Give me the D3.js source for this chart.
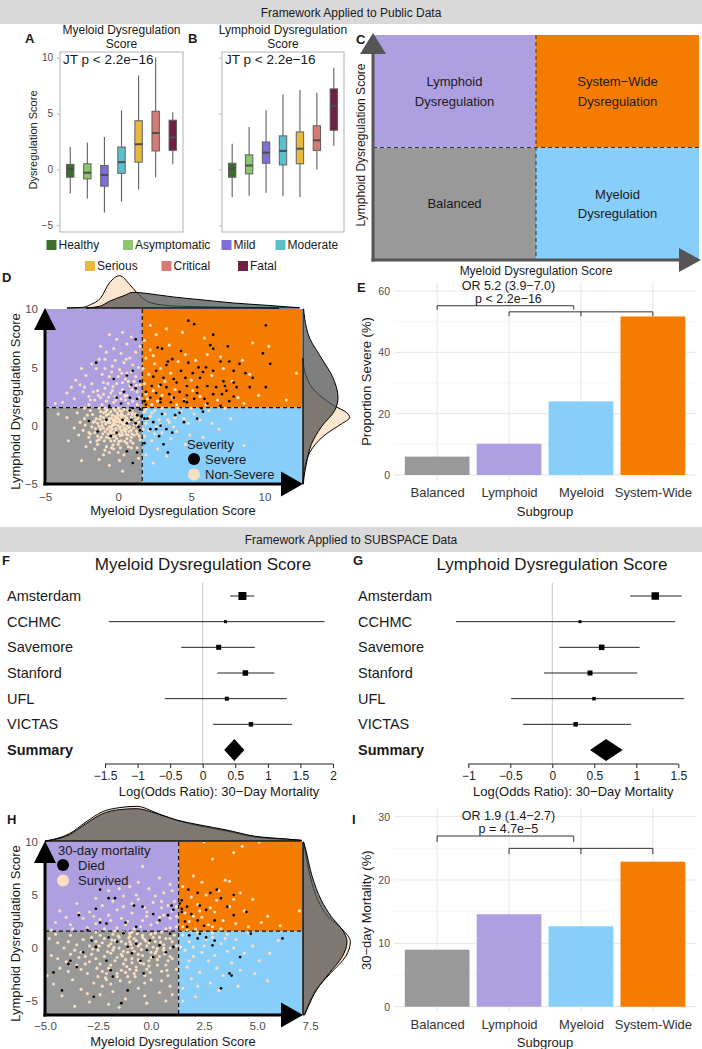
<!DOCTYPE html>
<html lang="en">
<head>
    <meta charset="UTF-8">
    <title>Dysregulation framework</title>
    <script src="https://cdnjs.cloudflare.com/ajax/libs/d3/7.8.5/d3.min.js"></script>
    <style>
        html, body {
            margin: 0;
            padding: 0;
            background: #fff;
            overflow: hidden;
        }
        svg text {
            font-family: "Liberation Sans", Arial, Helvetica, sans-serif;
        }
    </style>
</head>
<body>
<script>
    // ---------- data ----------
    let severityGroups = ['Healthy', 'Asymptomatic', 'Mild', 'Moderate', 'Serious', 'Critical', 'Fatal'];
    let severityColors = ['#3b6e2a', '#8dc66f', '#7e6ed6', '#5cc0cc', '#e8b93e', '#d67b73', '#6e1f43'];
    // [lower whisker, q1, median, q3, upper whisker]
    let myeloidBoxes = [
        [-2.15, -0.7, 0.05, 0.45, 2.0],
        [-2.6, -0.85, -0.3, 0.5, 2.4],
        [-3.85, -1.5, -0.5, 0.35, 2.9],
        [-2.9, -0.35, 0.65, 2.0, 5.3],
        [-1.8, 0.65, 2.25, 4.35, 8.4],
        [-0.7, 1.65, 3.25, 5.2, 10.0],
        [0.45, 1.7, 2.85, 4.4, 5.1]
    ];
    let lymphoidBoxes = [
        [-2.5, -0.7, 0.05, 0.55, 2.3],
        [-2.35, -0.4, 0.35, 1.3, 3.8],
        [-2.1, 0.55, 1.5, 2.45, 5.3],
        [-2.4, 0.4, 1.65, 3.0, 6.7],
        [-2.5, 0.5, 1.85, 3.35, 7.1],
        [0.0, 1.7, 2.6, 3.9, 6.85],
        [2.1, 3.5, 5.7, 7.2, 9.1]
    ];
    let boxTicks = [-5, 0, 5, 10];

    let quadrantNames = ['Balanced', 'Lymphoid', 'Myeloid', 'System-Wide'];
    let quadrantColors = ['#999999', '#ae9fe0', '#87cefa', '#f57c00'];
    let quadrantLabels = [['Balanced'], ['Lymphoid', 'Dysregulation'], ['Myeloid', 'Dysregulation'], ['System\u2212Wide', 'Dysregulation']];

    let proportionSevere = [6.0, 10.2, 24.0, 51.7];
    let mortality30 = [9.0, 14.6, 12.7, 22.9];

    let sites = ['Amsterdam', 'CCHMC', 'Savemore', 'Stanford', 'UFL', 'VICTAS'];
    let myeloidLogOR = [0.61, 0.35, 0.245, 0.655, 0.37, 0.74];
    let myeloidLow = [0.42, -1.44, -0.33, 0.225, -0.58, 0.16];
    let myeloidHigh = [0.79, 1.87, 0.80, 1.10, 1.29, 1.37];
    let myeloidWeight = [37, 5.2, 14.5, 17.5, 9.3, 11.7];
    let myeloidSummary = [0.33, 0.485, 0.64];
    let lymphoidLogOR = [1.226, 0.33, 0.588, 0.449, 0.496, 0.278];
    let lymphoidLow = [0.925, -1.147, 0.083, -0.099, -0.49, -0.349];
    let lymphoidHigh = [1.54, 1.46, 1.04, 1.012, 1.57, 0.937];
    let lymphoidWeight = [32.5, 5.2, 17.5, 14.5, 7.1, 11.7];
    let lymphoidSummary = [0.449, 0.64, 0.838];
    let myeloidForestTicks = [-1.5, -1, -0.5, 0, 0.5, 1, 1.5, 2];
    let lymphoidForestTicks = [-1, -0.5, 0, 0.5, 1, 1.5];

    // panel D points [myeloid, lymphoid]
    let dSevere = [
        [4.8,9.0],[5.2,8.7],[10.1,8.6],[6.5,7.8],[2.7,6.7],[3.0,6.6],[4.3,6.4],[3.7,5.7],[6.3,6.9],[6.5,6.6],[7.5,6.8],[9.9,6.2],
        [10.4,5.3],[7.0,5.5],[7.6,5.5],[8.3,5.3],[3.3,5.2],[3.4,5.5],[4.8,5.4],[5.5,5.0],[6.0,5.0],[5.8,4.6],[6.5,4.7],[7.9,4.7],
        [8.7,4.5],[4.3,4.7],[5.1,4.5],[2.6,4.7],[2.4,4.2],[3.1,4.1],[3.8,4.0],[4.6,4.1],[5.6,4.1],[7.2,3.8],[7.9,3.7],[9.2,4.1],
        [2.3,3.4],[2.9,3.5],[3.3,3.3],[4.0,3.7],[4.7,3.4],[5.4,3.3],[6.1,3.4],[6.7,3.3],[7.3,3.4],[7.4,3.0],[8.1,3.3],[9.0,3.3],
        [10.1,3.3],[1.9,2.9],[2.6,2.8],[3.5,2.7],[4.2,2.9],[4.7,2.6],[5.4,2.8],[6.5,2.7],[7.1,2.7],[7.9,2.5],[2.2,2.4],[2.9,2.3],
        [3.8,2.4],[4.5,2.1],[5.2,2.3],[5.9,2.3],[2.9,2.0],[3.6,2.0],[4.7,2.0],[6.1,1.9],[7.0,1.7],[7.6,2.1],[1.8,2.1],[1.9,1.8],
        [-1.5,5.4],[1.2,7.4],[-0.3,4.0],[0.6,4.3],[1.0,4.7],[0.9,3.5],[1.2,3.2],[1.5,3.8],[0.4,2.9],[-0.1,2.4],[0.8,2.4],[1.3,2.3],
        [0.2,1.9],[-0.6,1.7],[1.5,1.4],[1.0,1.5],[0.8,1.3],[1.3,0.9],[1.6,0.8],[1.8,0.6],[0.9,0.5],[1.2,0.2],[1.4,-0.1],[0.3,0.5],
        [0.6,0.2],[-0.8,0.5],[-1.4,-0.5],[-2.0,0.4],[0.6,-2.2],[1.3,-2.3],[1.0,-3.2],[-0.5,-0.9],[-0.1,-0.6],[1.5,-0.4],[2.0,0.6],
        [2.4,0.3],[2.9,0.0],[3.3,-0.3],[3.7,-0.6],[2.8,-0.9],[3.1,-1.6],[3.4,-2.3],[1.8,-1.5],[2.6,-0.3],[5.4,0.6],[5.8,1.2],
        [4.5,0.3],[4.2,1.1],[5.7,1.5],[3.0,1.0],[3.9,0.9],[2.2,-0.3]
    ];
    let dNonSevere = [
        [-0.3,0.2],[0.1,0.5],[-0.6,-0.1],[0.4,-0.2],[-0.1,-0.5],[0.7,0.3],[-0.9,0.4],[0.2,1.0],[-0.4,0.9],[0.9,-0.4],[-1.2,-0.3],
        [0.5,0.8],[-0.7,-0.7],[0.0,0.0],[0.3,-0.8],[-0.2,1.3],[1.1,0.1],[-1.5,0.6],[0.6,-1.1],[-0.5,-1.3],[0.8,1.2],[-1.0,1.1],
        [1.3,-0.7],[-1.8,-0.1],[0.0,-1.6],[-0.8,-1.8],[1.0,-1.5],[-2.1,0.9],[-1.3,-1.2],[0.4,1.4],[-0.1,0.7],[0.2,-0.4],[-0.4,-0.3],
        [0.6,0.0],[-0.7,0.3],[0.1,0.3],[-0.2,-0.9],[0.9,0.7],[-1.1,0.0],[0.3,0.2],[-0.6,0.6],[1.2,0.5],[-0.3,-0.6],[0.5,-0.5],
        [-1.4,0.2],[-0.9,-0.5],[0.7,-0.8],[-0.2,0.4],[0.2,0.8],[-0.5,1.2],[1.4,0.3],[-1.6,-0.6],[-2.4,-0.4],[-2.0,-1.0],[-2.6,0.3],
        [-3.0,-0.2],[-1.9,1.3],[-2.8,1.1],[-3.5,0.7],[-4.1,1.0],[-0.3,-2.0],[0.4,-2.5],[-1.0,-2.5],[0.1,-3.0],[-0.6,-3.4],[0.3,-3.9],
        [-1.6,-2.0],[1.3,-1.9],[-2.2,-1.8],[-1.3,-2.9],[-2.5,-3.0],[1.4,-2.8],[-0.9,1.5],[0.0,1.5],[1.0,1.4],[-1.3,1.5],[-2.3,1.5],
        [0.8,-0.1],[-0.1,-1.1],[0.2,-1.3],[-0.8,-1.0],[-1.7,0.3],[0.6,0.5],[-0.4,0.0],[0.0,0.9],[0.9,-1.0],[-1.2,0.8],[1.5,-1.2],
        [-0.6,-2.3],[0.7,-1.8],[-1.9,-1.4],[1.2,1.0],[-0.2,0.1],[0.3,0.6],[-0.8,0.9],[-0.5,-0.6],[0.1,-0.2],[-1.0,-0.2],[0.5,0.2],
        [-3.4,-1.3],[-1.4,-0.9],
        [-0.35,0.45],[0.15,-0.1],[-0.55,-0.45],[0.45,0.45],[-0.15,-0.25],[0.75,-0.15],[-0.85,0.15],[0.25,1.2],[-0.45,0.65],
        [1.05,-0.2],[-1.05,-0.7],[0.35,0.05],[-0.25,-1.3],[0.55,-0.75],[-0.65,1.0],[0.95,0.95],[-1.25,0.55],[0.05,-0.7],
        [-0.05,1.1],[1.25,-0.45],[-1.55,-0.25],[0.65,1.35],[-0.95,-1.3],[0.15,-1.9],[-0.35,-1.65],[1.35,0.65],[-1.75,0.95],
        [-2.25,0.05],[0.85,-1.3],[-0.75,1.35],[0.4,-0.35],[-0.2,0.8],[-1.1,0.3],[0.6,0.65],[-0.5,-0.15],[0.2,0.35],[1.1,-0.8],
        [-1.4,-1.6],[-2.0,-0.6],[0.0,-2.3],
        [-0.1,0.35],[0.3,0.9],[-0.75,-0.3],[0.55,-0.3],[-0.35,-0.95],[0.85,0.45],[-1.0,0.7],[0.1,1.3],[-0.55,0.25],[1.15,0.8],
        [-1.3,-0.05],[0.7,1.0],[-0.6,-1.05],[0.0,0.6],[0.45,-1.35],[-0.3,1.45],[1.3,0.05],[-1.6,0.35],[0.75,-0.5],[-0.15,-0.35],
        [0.95,-0.7],[-1.15,-1.0],[0.25,-0.6],[-0.85,1.2],[1.45,-0.9],[-1.9,-0.7],[0.05,-1.35],[-0.45,-1.9],[0.6,-1.5],[-1.2,1.2],
        [1.0,1.1],[-0.25,0.55],[0.4,0.15],[-0.65,0.45],[0.15,-0.85],[-1.45,-1.3],[-2.3,0.6],[-2.7,-0.8],[0.9,-1.9],[-0.9,-2.1],
        [-0.3,2.0],[0.2,2.3],[-0.8,2.1],[0.6,2.6],[-1.2,2.4],[1.0,2.1],[-0.5,2.8],[0.3,3.1],[-1.6,2.2],[1.3,2.9],[-2.0,2.5],
        [0.8,3.4],[-0.9,3.2],[-0.1,3.6],[1.1,3.8],[-1.4,3.0],[0.5,4.0],[-2.4,2.9],[-0.6,4.2],[0.9,4.6],[-1.8,3.6],[0.1,4.8],
        [-1.1,4.4],[1.4,5.0],[-2.6,3.5],[0.4,5.4],[-0.4,5.1],[-1.5,4.9],[0.8,5.8],[-2.2,4.3],[-0.9,5.7],[0.2,6.2],[1.2,6.3],
        [-0.3,6.6],[-1.8,5.3],[0.6,7.0],[-0.8,6.3],[-0.1,7.4],[0.3,8.0],[-0.6,7.8],[0.9,7.6],[-3.0,2.3],[-3.5,2.8],[-2.9,3.9],
        [-3.8,2.0],[-4.3,1.9],[-2.0,1.8],[-1.1,1.8],[0.7,1.9],[1.4,2.4],[1.5,3.5],[1.2,4.2],[-1.3,5.7],[-2.5,4.9],[-0.2,2.5],
        [0.5,2.2],[-0.7,3.6],[0.0,4.2],[-1.7,2.9],[1.0,5.2],[-0.4,3.0],[-1.0,2.7],[0.3,3.7],[-2.3,3.3],[0.6,4.5],[1.5,6.8],
        [-1.2,6.8],[-0.2,5.6],[1.3,1.8],[-3.2,3.3],
        [-0.15,2.2],[0.45,2.55],[-0.65,2.45],[0.95,3.1],[-1.35,2.6],[0.15,2.8],[-0.35,3.35],[0.7,3.8],[-1.0,3.7],[0.25,4.5],
        [-0.45,4.6],[1.25,3.45],[-1.9,2.2],[0.55,5.7],[-0.9,4.9],
        [2.0,2.3],[2.4,3.0],[1.8,3.6],[2.1,4.4],[2.7,2.1],[3.2,3.8],[2.5,5.3],[1.9,5.8],[2.2,6.5],[1.8,7.3],[2.6,7.8],[3.5,6.9],
        [4.1,5.5],[3.9,3.1],[4.5,2.2],[5.0,3.9],[5.3,5.6],[5.9,7.5],[6.4,4.3],[7.2,4.9],[6.8,2.2],[7.8,3.8],[8.2,2.4],[9.0,4.4],
        [12.2,4.5],[9.6,2.6],[11.5,2.2],[2.3,1.8],[3.0,2.6],[1.9,2.7],[3.6,4.5],[4.6,6.1],[2.9,4.9],[5.6,2.5],[6.1,6.1],[7.0,5.9],
        [8.5,5.6],[3.3,8.3],[2.2,8.6],[4.4,8.0],[10.3,6.8],[9.2,7.1],[5.1,3.0],[3.7,2.4],[2.8,3.4],[4.0,1.8],[6.0,1.8],[8.6,1.9],
        [1.7,4.9],[2.4,6.0],
        [1.8,1.2],[2.2,0.8],[1.9,0.2],[2.5,1.3],[2.8,0.5],[2.1,-0.4],[3.2,1.0],[2.6,-0.1],[3.5,0.3],[1.8,-0.9],[3.0,-0.6],
        [3.9,0.7],[2.3,-1.3],[4.3,1.2],[3.6,-1.1],[4.8,0.2],[2.7,-2.0],[5.2,1.0],[4.0,-0.5],[5.6,0.5],[1.9,-2.5],[3.3,-2.6],
        [6.2,1.3],[4.6,-1.6],[6.9,-0.3],[5.8,-1.0],[7.7,0.6],[8.6,-1.7],[5.3,-2.8],[2.4,-3.2],[3.0,1.5],[4.1,1.5],[2.0,0.5],
        [2.9,0.1],[2.3,1.1],[3.8,-0.1],[4.5,0.6],[1.7,-0.3],[2.5,-0.7],[3.4,0.5],[1.9,1.4],[6.4,0.2],[4.9,-0.8],[7.3,1.5],[5.0,1.5]
    ];
    // panel D marginal densities (relative heights)
    let dTopNonSevereX = [-3.5, -2.4, -1.9, -1.2, -0.6, 0.1, 0.8, 1.3, 2.0, 2.9, 4.5, 7.9, 11.0];
    let dTopNonSevereH = [0, 2, 10, 30, 75, 97, 70, 45, 20, 10, 5, 2, 0];
    let dTopSevereX = [-2.2, -1.2, -0.6, 0.4, 1.0, 1.7, 2.6, 3.8, 5.6, 7.9, 10.2, 11.7, 12.4];
    let dTopSevereH = [0, 6, 20, 37, 47, 45, 40, 33, 25, 15, 8, 3, 1];
    let dRightSevereY = [10, 9.2, 7.5, 5.8, 4.1, 2.4, 1.3, -0.1, -1.6, -3.3, -4.4, -5];
    let dRightSevereH = [2, 5, 20, 55, 90, 105, 95, 55, 25, 10, 3, 1];
    let dRightNonSevereY = [5.8, 4.7, 3.0, 1.85, 1.0, 0.7, 0.15, -0.7, -1.85, -3.3, -4.5, -5];
    let dRightNonSevereH = [0, 5, 35, 85, 135, 140, 115, 70, 30, 7, 1, 0];

    // panel H points [myeloid, lymphoid]
    let hDied = [
        [1.76,5.5],[2.2,5.2],[2.8,5.2],[3.3,4.7],[3.1,5.5],[1.45,4.5],[1.7,3.9],[1.9,3.2],[2.3,4.0],[2.6,3.6],[3.6,3.9],[3.9,3.1],
        [4.5,3.4],[1.45,3.4],[1.6,2.5],[2.2,2.6],[3.0,2.6],[1.7,2.0],[2.5,2.1],[3.9,5.0],[1.45,3.7],[1.35,4.2],
        [1.8,1.2],[2.3,1.35],[2.6,1.0],[2.9,0.25],[3.0,0.7],[4.2,-0.85],[6.2,0.9],[4.7,1.35],[3.7,-2.4],[3.8,-2.6],[3.3,-3.8],[2.2,0.9],
        [-3.4,3.1],[-2.4,5.5],[-2.0,4.7],[-1.7,4.7],[-2.6,3.7],[-2.4,2.4],[-2.1,2.3],[-0.8,4.0],[-0.4,3.9],[0.1,3.2],[0.97,4.0],
        [1.05,3.6],[0.8,3.1],[0.4,2.6],[-1.2,2.4],[-0.7,2.0],[-3.0,1.7],
        [-4.6,-2.3],[-4.2,-4.0],[-3.9,-1.5],[-3.8,-1.2],[-3.5,-1.8],[-3.2,-0.4],[-2.8,0.7],[-2.6,0.1],[-2.1,-1.2],[-1.9,-2.1],
        [-1.8,-2.7],[-1.6,0.6],[-1.3,1.4],[-1.1,0.1],[-0.9,-0.5],[-0.7,0.4],[-0.5,-1.2],[-0.2,-0.2],[-0.05,0.7],[0.1,-0.85],
        [0.4,0.25],[0.7,-0.4],[0.9,1.35],[1.05,0.1],[-0.35,-2.4],[-1.1,-4.0],[-2.7,-4.6],[-1.4,-5.2],[-2.0,1.0]
    ];
    let hSurvived = [
        [-0.8,-0.3],[-1.2,0.4],[-0.3,0.8],[0.2,-0.5],[-1.6,-0.9],[-0.5,-1.4],[0.6,0.3],[-2.0,0.2],[-1.0,1.1],[0.0,1.3],[0.9,-0.8],
        [-2.4,-1.5],[-1.4,-2.1],[-0.2,-2.0],[0.7,-1.6],[-2.8,-0.6],[-3.2,0.8],[-1.8,1.3],[0.4,1.0],[1.0,0.6],[-0.6,0.2],[-1.5,0.0],
        [-0.9,-1.0],[0.1,0.1],[-2.2,0.9],[-3.6,-0.2],[-4.0,-1.3],[-3.0,-2.4],[-2.1,-3.0],[-1.0,-3.2],[0.0,-3.0],[0.8,-2.6],[-4.4,0.5],
        [-3.8,1.2],[-2.6,1.5],[-1.3,1.5],[0.5,1.5],[1.1,1.2],[-0.4,-0.7],[-1.9,-0.5],[-2.5,-0.2],[-1.1,-0.4],[0.3,-1.1],[-0.7,0.7],
        [-1.7,0.7],[-2.9,0.2],[-3.4,-0.9],[-0.1,0.5],[0.9,0.0],[-1.3,-1.5],[-2.0,-1.9],[-0.3,-2.6],[-1.6,-2.7],[-2.7,-3.3],[-3.9,-2.2],
        [-4.3,-1.9],[-4.7,-0.7],[-3.1,-1.5],[-0.6,-3.8],[-1.8,-4.1],[-2.4,-4.4],[-3.3,-3.9],[-1.2,-4.8],[0.4,-4.2],[-0.2,-5.2],
        [-2.9,-5.1],[-1.5,-5.6],[0.9,-3.6],[1.2,-2.0],[1.0,-1.0],[0.6,-0.2],[-0.9,0.0],[-0.5,0.4],[-1.4,-0.6],[-2.3,0.5],[-0.2,-0.2],
        [0.2,0.6],[-1.0,0.6],[-1.8,-0.2],[-0.7,-1.8],[0.3,-1.6],[-2.6,-1.0],[-1.2,-1.1],[-3.5,0.3],[-4.1,0.0],[-2.1,-2.4],[-0.8,-2.4],
        [0.5,-2.2],[-0.4,1.2],[-1.5,1.0],[-2.8,1.0],[0.7,0.9],[-0.1,-1.2],[-3.7,-3.0],[-4.6,-3.4],[-3.0,-4.3],[-4.2,-4.5],[-2.3,-3.6],
        [-1.0,-2.0],[0.0,-0.9],[-1.9,0.4],[-0.6,-1.1],[1.2,0.2],[-2.4,1.2],[-4.9,-2.6],[-4.5,1.3],[-3.3,-0.4],[-0.9,1.5],[0.1,1.0],
        [-1.1,-2.7],[-2.5,-2.7],[-0.3,-4.5],[0.7,-5.0],[-3.6,-5.5],[1.0,-4.4],[-4.8,0.9],[-2.0,-5.3],[-1.7,1.6],
        [-0.6,-0.6],[-1.1,0.0],[-0.2,0.2],[0.4,-0.8],[-1.4,0.6],[-0.9,-1.4],[0.0,-0.4],[-1.7,-1.2],[-0.4,1.0],[0.6,0.0],
        [-2.2,-0.8],[-1.3,-0.3],[0.2,1.4],[-0.7,-2.1],[-2.0,1.0],[-2.9,-1.3],[0.8,-1.2],[-1.6,-2.4],[-0.1,-1.7],[-2.6,0.6],
        [-3.3,-2.0],[-1.0,1.4],[0.9,0.9],[-0.3,-3.3],[-1.9,-3.4],[-3.8,-0.6],[-2.3,-2.2],[-0.8,0.9],[-1.2,-2.3],[0.5,-3.1],
        [-1.35,-0.75],[-0.45,-0.15],[-2.05,-0.35],[-0.95,0.35],[-1.75,0.05],[0.25,-0.3],[-0.55,-1.15],[-2.45,0.2],[-1.15,-1.75],
        [-0.25,0.65],[-1.9,-1.6],[0.45,0.55],[-2.75,-0.1],[-0.75,-2.7],[-1.55,1.15],[-3.1,-0.8],[0.65,-0.55],[-0.05,-2.3],
        [-2.15,-2.8],[-1.05,0.95],[-3.5,-1.6],[-0.35,-1.5],[-1.45,-3.1],[0.75,-2.1],[-2.55,-1.9],[-0.65,1.35],[-1.85,0.75],
        [-4.4,-1.0],[-3.9,0.6],[0.3,-0.05],
        [-0.5,2.0],[0.3,2.4],[-1.2,2.2],[0.9,2.8],[-1.9,2.6],[-0.2,3.0],[1.0,3.5],[-2.6,2.3],[-0.9,3.3],[0.5,3.8],[-1.6,3.6],
        [-3.2,2.8],[0.1,4.3],[-0.6,4.6],[1.1,4.4],[-2.3,4.0],[-1.3,4.9],[0.6,5.2],[-3.8,2.2],[-4.5,2.4],[-2.9,3.4],[-0.1,5.6],
        [0.9,6.0],[-2.0,5.4],[-4.3,3.5],[-3.5,4.2],[-1.0,5.8],[0.4,6.6],[-0.4,7.7],[1.2,2.0],[0.7,1.8],[-0.8,1.8],[-2.2,1.8],
        [-3.0,1.9],[-1.6,1.9],[0.0,2.2],[0.6,3.1],[-0.4,2.6],[-1.4,2.8],[-2.7,3.0],[1.2,3.0],[0.8,4.0],[-0.3,3.8],[-1.8,4.4],
        [-3.4,3.3],[0.2,4.9],[-0.9,4.2],[1.0,5.4],[-2.6,4.7],[-1.5,5.6],[-0.6,6.2],[-4.0,2.9],[-2.0,3.1],[-1.1,2.5],[0.4,2.9],
        [-0.2,3.4],[1.2,3.9],[-3.7,1.8],[-4.7,1.7],[0.9,1.9],[-0.7,5.0],[0.5,4.4],[-1.3,3.9],[-2.4,2.7],
        [1.5,2.0],[1.8,2.5],[2.1,1.8],[2.4,2.9],[1.6,3.3],[2.7,2.2],[3.0,3.4],[2.2,4.1],[3.4,2.6],[1.9,4.8],[3.7,3.9],[2.6,5.0],
        [4.0,2.3],[3.2,5.4],[4.4,3.5],[2.4,6.2],[3.5,6.4],[3.7,6.3],[4.8,4.6],[5.2,2.4],[2.0,6.8],[2.9,8.4],[3.9,9.0],[4.3,9.6],
        [5.1,10.0],[2.5,10.0],[6.1,2.1],[7.0,3.5],[1.7,1.7],[2.9,2.0],[3.3,1.8],[4.6,2.0],[2.0,3.0],[2.8,3.8],[3.9,4.6],[4.2,5.2],
        [5.5,3.0],[1.5,5.8],[3.1,4.5],[2.3,3.5],
        [1.5,1.2],[1.8,0.6],[2.2,1.4],[1.6,-0.2],[2.5,0.2],[2.0,-0.8],[2.9,1.0],[3.3,0.4],[2.7,-1.2],[3.6,-0.3],[1.7,-1.8],
        [2.3,-2.3],[3.1,-1.9],[4.0,0.8],[3.8,-1.4],[4.4,-0.5],[1.9,-2.9],[2.8,-3.3],[3.4,-2.6],[4.2,-2.1],[4.8,0.2],[5.1,-1.2],
        [5.5,-3.1],[2.1,-4.6],[1.5,-5.0],[3.6,1.3],[4.6,1.4],[1.4,0.1],[2.4,-0.4],[3.0,-0.7],[1.8,-1.2],[2.6,0.8],[3.9,0.0],
        [4.9,-2.4],[6.0,0.7],[2.2,-3.6],[3.2,-4.0],[1.5,-3.8],[4.1,-3.6],[2.9,1.4],[2.0,0.1],[3.5,0.9],[5.6,-0.5]
    ];
    let hTopX = [-5.0, -4.6, -3.85, -3.07, -2.28, -1.5, -0.67, 0.27, 1.21, 2.31, 3.57, 4.83, 6.4, 7.1];
    let hTopSurvivedH = [0, 5, 22, 57, 88, 100, 104, 84, 62, 45, 30, 13, 5, 2];
    let hTopDiedH = [0, 4, 19, 52, 82, 94, 97, 82, 63, 48, 33, 15, 6, 2];
    let hRightY = [10, 9.56, 6.7, 4.5, 2.96, 1.7, 0.6, -0.8, -2.4, -3.9, -5.5, -6.3];
    let hRightSurvivedH = [1, 4, 22, 45, 75, 120, 142, 128, 82, 40, 14, 4];
    let hRightDiedH = [2, 6, 28, 55, 85, 118, 132, 118, 78, 42, 16, 5];

    // ---------- drawing ----------
    let width = 702;
    let height = 1049;
    let beige = '#fbe0c0';
    let svg = d3.select('body').append('svg')
        .attr('width', width)
        .attr('height', height);

    function addText(x, y, str, size, o = {}) {
        return svg.append('text')
            .attr('x', x).attr('y', y).attr('dy', '0.35em')
            .attr('font-size', size)
            .attr('fill', o.fill || '#1a1a1a')
            .attr('text-anchor', o.anchor || 'middle')
            .attr('font-weight', o.weight || 'normal')
            .attr('transform', o.rotate ? `rotate(-90,${x},${y})` : null)
            .text(str);
    }

    function styleAxis(a, size, fill) {
        a.select('.domain').remove();
        a.selectAll('text').attr('font-size', size).attr('fill', fill)
            .attr('font-family', '"Liberation Sans", Arial, sans-serif');
    }

    // banners
    svg.append('rect').attr('x', 0).attr('y', 0).attr('width', width).attr('height', 24).attr('fill', '#d9d9d9');
    addText(351, 12.5, 'Framework Applied to Public Data', 12);
    svg.append('rect').attr('x', 0).attr('y', 527).attr('width', width).attr('height', 25).attr('fill', '#d9d9d9');
    addText(351, 539.5, 'Framework Applied to SUBSPACE Data', 12);

    // panel letters
    [['A', 25, 38], ['B', 188, 38], ['C', 356, 39], ['D', 2, 277], ['E', 357, 287],
        ['F', 2, 560], ['G', 353, 560], ['H', 7, 819], ['I', 352, 819]].forEach(l => {
        addText(l[1], l[2], l[0], 13, {anchor: 'start', weight: 'bold'});
    });

    // ---------- A / B box plots ----------
    function boxPanel(x0, x1, boxes, title, showY) {
        let x = d3.scalePoint().domain(severityGroups).range([x0, x1]).padding(0.6);
        let y = d3.scaleLinear().domain([-5.6, 10.5]).range([232, 52]);
        let g = svg.append('g');
        g.append('rect').attr('x', x0).attr('y', 52).attr('width', x1 - x0).attr('height', 180)
            .attr('fill', 'none').attr('stroke', '#b3b3b3');
        g.append('g').attr('transform', `translate(${x0},0)`)
            .call(d3.axisLeft(y).tickValues(boxTicks).tickSize(3).tickPadding(4)
                .tickFormat(showY ? d3.format('d') : () => ''))
            .call(a => {
                styleAxis(a, 10, '#4d4d4d');
                a.selectAll('line').attr('stroke', '#b3b3b3');
            });
        let bw = 7.4;
        let b = g.selectAll('g.box').data(boxes).join('g');
        b.append('line')
            .attr('x1', (d, i) => x(severityGroups[i])).attr('x2', (d, i) => x(severityGroups[i]))
            .attr('y1', d => y(d[0])).attr('y2', d => y(d[4]))
            .attr('stroke', '#5f5f5f').attr('stroke-width', 1.1);
        b.append('rect')
            .attr('x', (d, i) => x(severityGroups[i]) - bw / 2).attr('width', bw)
            .attr('y', d => y(d[3])).attr('height', d => y(d[1]) - y(d[3]))
            .attr('fill', (d, i) => severityColors[i])
            .attr('stroke', '#5f5f5f').attr('stroke-width', 1);
        b.append('line')
            .attr('x1', (d, i) => x(severityGroups[i]) - bw / 2).attr('x2', (d, i) => x(severityGroups[i]) + bw / 2)
            .attr('y1', d => y(d[2])).attr('y2', d => y(d[2]))
            .attr('stroke', '#4d4d4d').attr('stroke-width', 2);
        let cx = (x0 + x1) / 2;
        addText(cx, 30, title, 12);
        addText(cx, 44, 'Score', 12);
        addText(x0 + 3, 59.5, 'JT p < 2.2e\u221216', 13.5, {anchor: 'start'});
    }

    boxPanel(60, 183, myeloidBoxes, 'Myeloid Dysregulation', true);
    boxPanel(222, 344, lymphoidBoxes, 'Lymphoid Dysregulation', false);
    addText(33, 140, 'Dysregulation Score', 11, {rotate: true});

    // legend
    let legendPos = [[46.5, 245], [123, 245], [221.5, 245], [275.5, 245], [85, 266], [161.5, 266], [238, 266]];
    severityGroups.forEach((s, i) => {
        svg.append('rect').attr('x', legendPos[i][0]).attr('y', legendPos[i][1] - 5)
            .attr('width', 10).attr('height', 10).attr('fill', severityColors[i]);
        addText(legendPos[i][0] + 12, legendPos[i][1], s, 12, {anchor: 'start'});
    });

    // ---------- C schematic ----------
    {
        let cx = d3.scaleLinear().domain([0, 2]).range([373, 699]);
        let cy = d3.scaleLinear().domain([0, 2]).range([260, 35]);
        let col = [0, 0, 1, 1], row = [0, 1, 0, 1];
        quadrantNames.forEach((q, i) => {
            svg.append('rect').attr('x', cx(col[i])).attr('y', cy(row[i] + 1))
                .attr('width', cx(col[i] + 1) - cx(col[i])).attr('height', cy(row[i]) - cy(row[i] + 1))
                .attr('fill', quadrantColors[i]);
            let lines = quadrantLabels[i];
            let mx = cx(col[i] + 0.5), my = cy(row[i] + 0.5);
            lines.forEach((t, j) => addText(mx, my + (j - (lines.length - 1) / 2) * 19.5, t, 13));
        });
        svg.append('line').attr('x1', cx(1)).attr('x2', cx(1)).attr('y1', cy(2)).attr('y2', cy(0))
            .attr('stroke', '#333').attr('stroke-dasharray', '4,3');
        svg.append('line').attr('x1', cx(0)).attr('x2', cx(2)).attr('y1', cy(1)).attr('y2', cy(1))
            .attr('stroke', '#333').attr('stroke-dasharray', '4,3');
        let ac = '#555555';
        svg.append('line').attr('x1', 373).attr('x2', 373).attr('y1', 261.5).attr('y2', 50).attr('stroke', ac).attr('stroke-width', 3);
        svg.append('line').attr('x1', 371.5).attr('x2', 682).attr('y1', 260).attr('y2', 260).attr('stroke', ac).attr('stroke-width', 3);
        svg.append('path').attr('d', 'M373,33 L386,54 L360,54 Z').attr('fill', ac);
        svg.append('path').attr('d', 'M701,260 L679,248 L679,272 Z').attr('fill', ac);
        addText(361, 145, 'Lymphoid Dysregulation Score', 12, {rotate: true});
        addText(536, 271, 'Myeloid Dysregulation Score', 12);
    }

    // ---------- D / H scatter ----------
    function scatterPanel(p) {
        let x = d3.scaleLinear().domain(p.xDomain).range([45, 302]);
        let y = d3.scaleLinear().domain(p.yDomain).range([p.bottom, p.top]);
        let g = svg.append('g');
        let xl = 45, xr = 302, xc = x(p.cut[0]), yc = y(p.cut[1]);
        let rects = [[xl, yc, xc, p.bottom], [xl, p.top, xc, yc], [xc, yc, xr, p.bottom], [xc, p.top, xr, yc]];
        g.selectAll('rect.q').data(quadrantNames).join('rect')
            .attr('x', (d, i) => rects[i][0]).attr('y', (d, i) => rects[i][1])
            .attr('width', (d, i) => rects[i][2] - rects[i][0]).attr('height', (d, i) => rects[i][3] - rects[i][1])
            .attr('fill', (d, i) => quadrantColors[i]);
        g.append('line').attr('x1', xc).attr('x2', xc).attr('y1', p.top).attr('y2', p.bottom)
            .attr('stroke', '#111').attr('stroke-width', 1.2).attr('stroke-dasharray', '4,3');
        g.append('line').attr('x1', xl).attr('x2', xr).attr('y1', yc).attr('y2', yc)
            .attr('stroke', '#111').attr('stroke-width', 1.2).attr('stroke-dasharray', '4,3');
        g.selectAll('circle.l').data(p.light).join('circle')
            .attr('cx', d => x(d[0])).attr('cy', d => y(d[1])).attr('r', 1.55).attr('fill', beige);
        g.selectAll('circle.k').data(p.dark).join('circle')
            .attr('cx', d => x(d[0])).attr('cy', d => y(d[1])).attr('r', 1.35).attr('fill', '#000');

        // arrows
        g.append('line').attr('x1', 45).attr('x2', 45).attr('y1', p.bottom + 1.5).attr('y2', p.top + 18)
            .attr('stroke', '#000').attr('stroke-width', 3);
        g.append('line').attr('x1', 43.5).attr('x2', 284).attr('y1', p.bottom).attr('y2', p.bottom)
            .attr('stroke', '#000').attr('stroke-width', 3);
        g.append('path').attr('d', `M45,${p.top - 1} L56,${p.top + 21} L34,${p.top + 21} Z`).attr('fill', '#000');
        g.append('path').attr('d', `M303,${p.bottom} L281,${p.bottom - 12.5} L281,${p.bottom + 12.5} Z`).attr('fill', '#000');

        // ticks
        g.append('g').attr('transform', `translate(0,${p.bottom})`)
            .call(d3.axisBottom(x).tickValues(p.xTicks).tickSize(0).tickPadding(p.xPad).tickFormat(p.xFormat))
            .call(a => styleAxis(a, 11.5, '#4d4d4d'));
        g.append('g').attr('transform', 'translate(45,0)')
            .call(d3.axisLeft(y).tickValues([-5, 0, 5, 10]).tickSize(0).tickPadding(7).tickFormat(d3.format('d')))
            .call(a => styleAxis(a, 11.5, '#4d4d4d'));
        addText(173, p.bottom + 26, 'Myeloid Dysregulation Score', 13);
        addText(15, (p.top + p.bottom) / 2 + 5, 'Lymphoid Dysregulation Score', 13, {rotate: true});

        // marginal densities
        let topScale = d3.scaleLinear().domain([0, 105]).range([p.top - 1, p.top - 36]);
        let rightScale = d3.scaleLinear().domain([0, 140]).range([303, 349.7]);
        let areaTop = d3.area().x(d => x(d[0])).y0(p.top - 1).y1(d => topScale(d[1])).curve(d3.curveMonotoneX);
        let areaRight = d3.area().y(d => y(d[0])).x0(303).x1(d => rightScale(d[1])).curve(d3.curveMonotoneY);
        p.topDens.forEach((d, i) => {
            g.append('path').datum(d).attr('d', areaTop)
                .attr('fill', i === 0 ? '#fde5cd' : '#4d4d4d').attr('fill-opacity', i === 0 ? 0.95 : 0.72)
                .attr('stroke', '#000').attr('stroke-width', 1);
        });
        p.rightDens.forEach((d, i) => {
            g.append('path').datum(d).attr('d', areaRight)
                .attr('fill', i === 0 ? '#fde5cd' : '#4d4d4d').attr('fill-opacity', i === 0 ? 0.95 : 0.72)
                .attr('stroke', '#000').attr('stroke-width', 1);
        });

        // legend
        let L = p.legend;
        addText(L.x, L.y, L.title, 13, {anchor: 'start'});
        L.items.forEach((t, i) => {
            g.append('circle').attr('cx', L.cx).attr('cy', L.y + 15 + i * 15.5).attr('r', 6)
                .attr('fill', i === 0 ? '#000' : beige);
            addText(L.tx, L.y + 15 + i * 15.5, t, 13, {anchor: 'start'});
        });
    }

    let zipXY = (a, b) => a.map((v, i) => [v, b[i]]);

    scatterPanel({
        xDomain: [-5, 12.57], yDomain: [-5, 10], top: 309, bottom: 484, cut: [1.65, 1.55],
        light: dNonSevere, dark: dSevere,
        xTicks: [-5, 0, 5, 10], xFormat: d3.format('d'), xPad: 9,
        topDens: [zipXY(dTopNonSevereX, dTopNonSevereH), zipXY(dTopSevereX, dTopSevereH)],
        rightDens: [zipXY(dRightNonSevereY, dRightNonSevereH), zipXY(dRightSevereY, dRightSevereH)],
        legend: {title: 'Severity', items: ['Severe', 'Non-Severe'], x: 187, y: 444, cx: 194, tx: 205}
    });

    scatterPanel({
        xDomain: [-5, 7.12], yDomain: [-6.32, 10], top: 842, bottom: 1015, cut: [1.3, 1.6],
        light: hSurvived, dark: hDied,
        xTicks: [-5, -2.5, 0, 2.5, 5, 7.5], xFormat: d3.format('.1f'), xPad: 7,
        topDens: [zipXY(hTopX, hTopSurvivedH), zipXY(hTopX, hTopDiedH)],
        rightDens: [zipXY(hRightY, hRightSurvivedH), zipXY(hRightY, hRightDiedH)],
        legend: {title: '30-day mortality', items: ['Died', 'Survived'], x: 58, y: 850, cx: 63, tx: 78}
    });

    // ---------- E / I bars ----------
    function barPanel(p) {
        let x = d3.scalePoint().domain(quadrantNames).range([394, 696]).padding(0.6);
        let step = x.step();
        let y = d3.scaleLinear().domain([0, p.yMax]).range([p.zeroY, p.maxY]);
        let g = svg.append('g');
        let top = p.maxY - 9, bottom = p.zeroY + 6;
        g.selectAll('line.minor').data(p.minor).join('line')
            .attr('x1', 394).attr('x2', 696).attr('y1', d => y(d)).attr('y2', d => y(d))
            .attr('stroke', '#f2f2f2').attr('stroke-width', 0.7);
        g.selectAll('line.major').data(p.ticks).join('line')
            .attr('x1', 394).attr('x2', 696).attr('y1', d => y(d)).attr('y2', d => y(d))
            .attr('stroke', '#e6e6e6').attr('stroke-width', 1);
        g.selectAll('line.vg').data(quadrantNames).join('line')
            .attr('x1', d => x(d)).attr('x2', d => x(d)).attr('y1', top).attr('y2', bottom)
            .attr('stroke', '#e6e6e6').attr('stroke-width', 1);
        g.selectAll('rect.bar').data(p.values).join('rect')
            .attr('x', (d, i) => x(quadrantNames[i]) - step * 0.45).attr('width', step * 0.9)
            .attr('y', d => y(d)).attr('height', d => y(0) - y(d))
            .attr('fill', (d, i) => quadrantColors[i]);
        g.append('g').attr('transform', 'translate(394,0)')
            .call(d3.axisLeft(y).tickValues(p.ticks).tickSize(0).tickPadding(4))
            .call(a => styleAxis(a, 10.5, '#4d4d4d'));
        g.append('g').attr('transform', `translate(0,${bottom})`)
            .call(d3.axisBottom(x).tickSize(0).tickPadding(7))
            .call(a => styleAxis(a, 13, '#333'));
        addText(545, bottom + 30, 'Subgroup', 13);
        addText(366, (top + bottom) / 2, p.yTitle, 13, {rotate: true});

        // brackets: [from, to, level, drop, middle]
        let pos = v => x(quadrantNames[0]) + v * step;
        p.brackets.forEach(b => {
            let yy = y(b[2]), yd = y(b[2] - b[3]);
            let d = `M${pos(b[0])},${yd} L${pos(b[0])},${yy} L${pos(b[1])},${yy} L${pos(b[1])},${yd}`;
            if (b[4] !== null) d += ` M${pos(b[4])},${yy} L${pos(b[4])},${yd}`;
            g.append('path').attr('d', d).attr('fill', 'none').attr('stroke', '#333').attr('stroke-width', 1);
        });
        let b0 = p.brackets[0];
        let mid = (pos(b0[0]) + pos(b0[1])) / 2 + 3;
        addText(mid, y(b0[2]) - 20.5, p.ann[0], 12.5);
        addText(mid, y(b0[2]) - 7.5, p.ann[1], 12.5);
    }

    barPanel({
        values: proportionSevere, yMax: 60, zeroY: 475, maxY: 291,
        ticks: [0, 20, 40, 60], minor: [10, 30, 50],
        yTitle: 'Proportion Severe (%)',
        brackets: [[0, 1.9, 55.2, 1.3, null], [1, 3, 53.2, 1.4, 2]],
        ann: ['OR 5.2 (3.9\u22127.0)', 'p < 2.2e\u221216']
    });
    barPanel({
        values: mortality30, yMax: 30, zeroY: 1006.7, maxY: 816.7,
        ticks: [0, 10, 20, 30], minor: [5, 15, 25],
        yTitle: '30\u2212day Mortality (%)',
        brackets: [[0, 1.9, 26.95, 0.95, null], [1, 3, 25.0, 0.9, 2]],
        ann: ['OR 1.9 (1.4\u22122.7)', 'p = 4.7e\u22125']
    });

    // ---------- F / G forest ----------
    let weightScale = d3.scaleSqrt().domain([0, 37]).range([0, 8]);

    function forestPanel(p) {
        let x = d3.scaleLinear().domain(p.domain).range(p.range);
        let y = d3.scalePoint().domain([...sites, 'Summary']).range([596, 750]);
        let g = svg.append('g');
        g.append('line').attr('x1', x(0)).attr('x2', x(0)).attr('y1', 583).attr('y2', 764)
            .attr('stroke', '#c8c8c8').attr('stroke-width', 1);
        sites.forEach((s, i) => {
            addText(p.labelX, y(s), s, 14.5, {anchor: 'start'});
            g.append('line').attr('x1', x(p.low[i])).attr('x2', x(p.high[i]))
                .attr('y1', y(s)).attr('y2', y(s)).attr('stroke', '#222').attr('stroke-width', 1);
            let sz = weightScale(p.weight[i]);
            g.append('rect').attr('x', x(p.est[i]) - sz / 2).attr('y', y(s) - sz / 2)
                .attr('width', sz).attr('height', sz).attr('fill', '#000');
        });
        addText(p.labelX, y('Summary'), 'Summary', 14.5, {anchor: 'start', weight: 'bold'});
        let ys = y('Summary'), sm = p.summary;
        g.append('path')
            .attr('d', `M${x(sm[0])},${ys} L${x(sm[1])},${ys - 11} L${x(sm[2])},${ys} L${x(sm[1])},${ys + 11} Z`)
            .attr('fill', '#000');
        g.append('line').attr('x1', x(p.ticks[0])).attr('x2', x(p.ticks[p.ticks.length - 1]))
            .attr('y1', 764).attr('y2', 764).attr('stroke', '#222');
        g.append('g').attr('transform', 'translate(0,764)')
            .call(d3.axisBottom(x).tickValues(p.ticks).tickSize(4).tickPadding(3).tickFormat(d3.format('')))
            .call(a => {
                styleAxis(a, 12, '#222');
                a.selectAll('line').attr('stroke', '#222');
            });
        addText(p.titleX, 564, p.title, 17);
        addText((p.range[0] + p.range[1]) / 2, 791, 'Log(Odds Ratio): 30\u2212Day Mortality', 13);
    }

    forestPanel({
        domain: [-1.5, 2], range: [105, 333], labelX: 7, titleX: 203,
        est: myeloidLogOR, low: myeloidLow, high: myeloidHigh, weight: myeloidWeight,
        summary: myeloidSummary, ticks: myeloidForestTicks, title: 'Myeloid Dysregulation Score'
    });
    forestPanel({
        domain: [-1, 1.5], range: [468.3, 678.3], labelX: 358, titleX: 552,
        est: lymphoidLogOR, low: lymphoidLow, high: lymphoidHigh, weight: lymphoidWeight,
        summary: lymphoidSummary, ticks: lymphoidForestTicks, title: 'Lymphoid Dysregulation Score'
    });
</script>
</body>
</html>
